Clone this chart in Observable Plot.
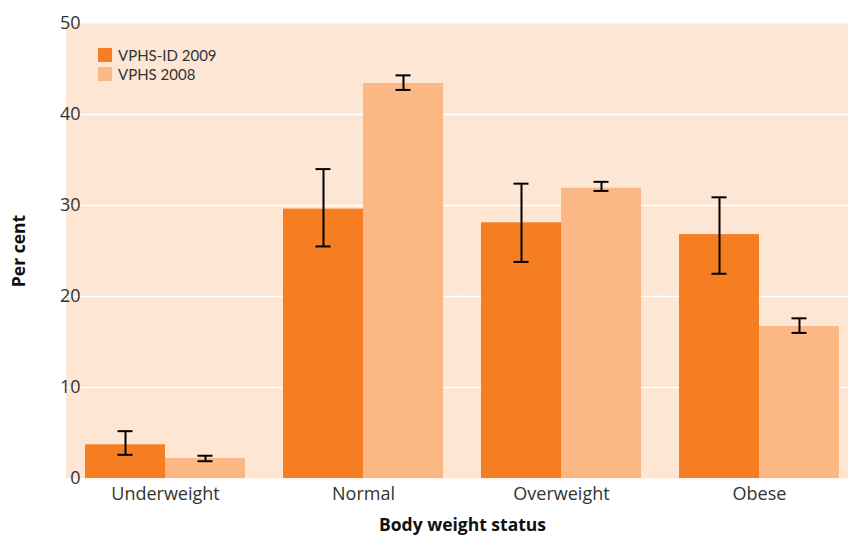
<!DOCTYPE html>
<html><head><meta charset="utf-8">
<script src="https://cdn.jsdelivr.net/npm/d3@7"></script>
<script src="https://cdn.jsdelivr.net/npm/@observablehq/plot@0.6"></script>
<style>
body{margin:0;background:#fff;}
#chart{position:relative;width:848px;height:535px;font-family:"Open Sans",sans-serif;color:#333;}
#legend{position:absolute;left:98px;top:45px;font-family:Lato,sans-serif;font-size:15px;color:#333;}
#legend .item{display:flex;align-items:center;height:19px;}
#legend .sw{width:14px;height:14px;margin-right:6px;flex:none;}
#legend .lbl{display:block;line-height:18px;}
g[aria-label="fx-axis label"] text, g[aria-label="y-axis label"] text{font-weight:bold;fill:#111;font-size:17.5px;}
</style></head><body><div id="chart"></div>
<script>
const categories = ["Underweight", "Normal", "Overweight", "Obese"];
const series = ["VPHS-ID 2009", "VPHS 2008"];
const colors = ["#F47E21", "#FBB884"];
const id2009 = [3.7, 29.6, 28.1, 26.8];
const id2009Low = [2.6, 25.5, 23.8, 22.5];
const id2009High = [5.2, 34.0, 32.4, 30.9];
const vphs2008 = [2.2, 43.4, 31.9, 16.7];
const vphs2008Low = [1.9, 42.7, 31.6, 16.0];
const vphs2008High = [2.5, 44.3, 32.6, 17.6];
const yTicks = [0, 10, 20, 30, 40, 50];
const gridValues = [10, 20, 30, 40];

const rows = [];
categories.forEach((c, i) => {
  rows.push({category: c, series: series[0], value: id2009[i], low: id2009Low[i], high: id2009High[i]});
  rows.push({category: c, series: series[1], value: vphs2008[i], low: vphs2008Low[i], high: vphs2008High[i]});
});

const half = -19.5;
const plot = Plot.plot({
  width: 848, height: 535,
  marginLeft: 66, marginRight: -10, marginTop: 23, marginBottom: 57,
  style: {fontFamily: "'Open Sans', sans-serif", fontSize: "17px", color: "#333", background: "transparent"},
  fx: {domain: categories, paddingInner: 0.192, paddingOuter: 0.096},
  x: {domain: series, padding: 0, axis: null},
  y: {domain: [0, 50]},
  color: {domain: series, range: colors},
  marks: [
    Plot.frame({fill: "#FEE6D5", stroke: null, insetLeft: half, insetRight: half}),
    Plot.ruleY(gridValues, {stroke: "white", strokeWidth: 1.5, insetLeft: half, insetRight: half}),
    Plot.barY(rows, {fx: "category", x: "series", y: "value", fill: "series"}),
    Plot.ruleX(rows, {fx: "category", x: "series", y1: "low", y2: "high", stroke: "black", strokeWidth: 2}),
    Plot.tickY(rows, {fx: "category", x: "series", y: "low", stroke: "black", strokeWidth: 2, inset: 32.5}),
    Plot.tickY(rows, {fx: "category", x: "series", y: "high", stroke: "black", strokeWidth: 2, inset: 32.5}),
    Plot.axisY({ticks: yTicks, tickSize: 0, tickPadding: 5, fontSize: 18, label: "Per cent", labelAnchor: "center", labelOffset: 73, labelArrow: false}),
    Plot.axisFx({anchor: "bottom", tickSize: 0, tickPadding: 9, fontSize: 18, label: "Body weight status", labelAnchor: "center", labelOffset: 52, labelArrow: false})
  ]
});
const chart = document.getElementById("chart");
chart.appendChild(plot);

const legend = document.createElement("div");
legend.id = "legend";
series.forEach((s, i) => {
  const item = document.createElement("div");
  item.className = "item";
  const sw = document.createElement("span");
  sw.className = "sw";
  sw.style.background = colors[i];
  const t = document.createElement("span");
  t.className = "lbl";
  t.textContent = s;
  item.appendChild(sw); item.appendChild(t);
  legend.appendChild(item);
});
chart.appendChild(legend);
</script></body></html>
